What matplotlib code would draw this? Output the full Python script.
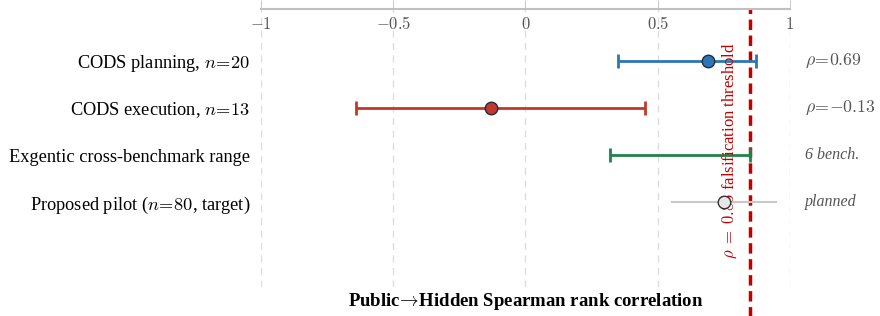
import matplotlib
matplotlib.use("Agg")
import matplotlib.pyplot as plt

plt.rcParams['font.family'] = ['Liberation Serif', 'DejaVu Serif']
plt.rcParams['mathtext.fontset'] = 'cm'

# data
labels = [r"CODS planning, $n\!=\!20$", r"CODS execution, $n\!=\!13$",
          "Exgentic cross-benchmark range", r"Proposed pilot ($n\!=\!80$, target)"]
rho = [0.69, -0.13, None, 0.75]
lo = [0.35, -0.64, 0.32, 0.55]
hi = [0.87, 0.45, 0.85, 0.95]
colors = ['#2e75b6', '#c0392b', '#1e8449', '#c8c8c8']
notes = [r"$\rho\!=\!0.69$", r"$\rho\!=\!{-}0.13$", "6 bench.", "planned"]
threshold = 0.85
xticks = [-1, -0.5, 0, 0.5, 1]
xticklabels = [r"$-1$", r"$-0.5$", r"$0$", r"$0.5$", r"$1$"]

fig = plt.figure(figsize=(8.8, 3.16), dpi=100)
ax = fig.add_axes([0.2966, 0.092, 0.6011, 0.8795])

for i in range(len(labels)):
    cap = 0 if i == 3 else 5
    lw = 1.5 if i == 3 else 2.0
    ax.errorbar([(lo[i] + hi[i]) / 2], [i], xerr=[[(hi[i] - lo[i]) / 2], [(hi[i] - lo[i]) / 2]],
                fmt='none', ecolor=colors[i], elinewidth=lw, capsize=cap, capthick=2.0, zorder=3)
    if rho[i] is not None:
        fc = '#e6e6e6' if i == 3 else colors[i]
        ec = '#333333' if i == 3 else '#1f2d3d'
        ax.plot([rho[i]], [i], 'o', ms=9, mfc=fc, mec=ec, mew=1.0, zorder=4)
    fs = 12.8 if notes[i].startswith('$') else 11.5
    ax.text(1.028, i, notes[i], transform=ax.get_yaxis_transform(), ha='left', va='center',
            fontsize=fs, color='#555555', style='italic')

ax.axvline(threshold, ymin=-0.12, ymax=1, color='#c00000', ls=(0, (3, 1.6)), lw=2.5,
           zorder=2, clip_on=False)
ax.text(threshold - 0.08, 1.9, r"$\rho\;=\;0.85$ falsification threshold", rotation=90,
        ha='center', va='center', color='#c00000', fontsize=12)

ax.set_xlim(-1, 1)
ax.set_ylim(4.8, -1.1)
ax.set_yticks(range(len(labels)))
ax.set_yticklabels(labels, fontsize=13.2)
ax.set_xticks(xticks)
ax.set_xticklabels(xticklabels, fontsize=12, color='#555555')
ax.tick_params(axis='y', length=0, pad=8)
ax.tick_params(axis='x', top=True, labeltop=True, bottom=False, labelbottom=False,
               direction='out', length=6.5, color='#cccccc', pad=-24)
ax.grid(axis='x', color='#dddddd', ls=(0, (5, 4)), lw=1)
for s in ['left', 'right', 'bottom']:
    ax.spines[s].set_visible(False)
ax.spines['top'].set_color('#c0c0c0')
ax.spines['top'].set_linewidth(1.5)
ax.set_xlabel(r"Public$\!\rightarrow\!$Hidden Spearman rank correlation", fontsize=13.5,
              fontweight='bold', labelpad=3)

fig.savefig('out.png', dpi=100)
